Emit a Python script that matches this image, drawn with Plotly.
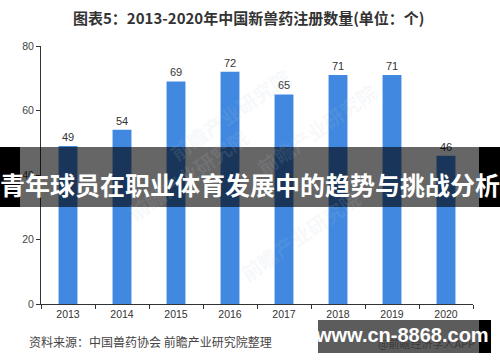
import plotly.graph_objects as go

years = ["2013", "2014", "2015", "2016", "2017", "2018", "2019", "2020"]
counts = [49, 54, 69, 72, 65, 71, 71, 46]
y_ticks = [0, 20, 40, 60, 80]

title_text = "图表5：2013-2020年中国新兽药注册数量(单位：个)"
banner_text = "青年球员在职业体育发展中的趋势与挑战分析"
source_text = "资料来源：中国兽药协会 前瞻产业研究院整理"
site_text = "www.cn-8868.com"
app_text = "@前瞻经济学人APP"
wm_text = "前瞻产业研究院"

W, H = 500, 362
L, R, T, B = 41, 27, 46, 58
PW, PH = W - L - R, H - T - B

def px(x):
    return (x - L) / PW

def py(y):
    return (H - B - y) / PH

FONT = "Noto Sans CJK SC, Liberation Sans, Arial, sans-serif"

fig = go.Figure(go.Bar(
    x=years, y=counts, width=0.35,
    marker=dict(color="#4088E0", line=dict(width=0)),
    text=counts, textposition="outside", cliponaxis=False,
    textfont=dict(size=11, color="#333333", family="Liberation Sans, Arial"),
))

shapes = [
    dict(type="rect", xref="paper", yref="paper", x0=px(0), x1=px(20), y0=py(207), y1=py(147),
         fillcolor="black", line=dict(width=0), layer="above"),
    dict(type="rect", xref="paper", yref="paper", x0=px(479), x1=px(500), y0=py(207), y1=py(147),
         fillcolor="black", line=dict(width=0), layer="above"),
    dict(type="rect", xref="paper", yref="paper", x0=px(20), x1=px(479), y0=py(207), y1=py(147),
         fillcolor="rgba(0,0,0,0.6)", line=dict(width=0), layer="above"),
    dict(type="rect", xref="paper", yref="paper", x0=px(318), x1=px(479), y0=py(353), y1=py(320),
         fillcolor="rgba(0,0,0,0.64)", line=dict(width=0), layer="above"),
    dict(type="rect", xref="paper", yref="paper", x0=px(479), x1=px(491), y0=py(353), y1=py(320),
         fillcolor="black", line=dict(width=0), layer="above"),
]

annotations = [
    dict(text="<b>" + title_text + "</b>", xref="paper", yref="paper", x=px(249), y=py(17),
         showarrow=False, font=dict(size=15, color="#333333", family=FONT), xanchor="center", yanchor="middle"),
    dict(text=source_text, xref="paper", yref="paper", x=px(27), y=py(341),
         showarrow=False, font=dict(size=12, color="#444444", family=FONT), xanchor="left", yanchor="middle"),
]
for (wx, wy) in [(120, 120), (385, 75), (300, 290), (230, 60)]:
    annotations.append(dict(text="<b>" + wm_text + "</b>", xref="paper", yref="paper", x=px(wx), y=py(wy),
                            showarrow=False, textangle=-35,
                            font=dict(size=20, color="rgba(190,200,215,0.12)", family=FONT)))
annotations += [
    dict(text=app_text, xref="paper", yref="paper", x=px(477), y=py(343),
         showarrow=False, font=dict(size=11, color="#3a3a3a", family=FONT), xanchor="right", yanchor="middle"),
    dict(text="<b>" + site_text + "</b>", xref="paper", yref="paper", x=px(402), y=py(335),
         showarrow=False, font=dict(size=20, color="white", family="Liberation Sans, Arial"),
         xanchor="center", yanchor="middle"),
    dict(text="<b>" + banner_text + "</b>", xref="paper", yref="paper", x=px(250), y=py(184),
         showarrow=False, font=dict(size=25, color="white", family=FONT), xanchor="center", yanchor="middle"),
]

fig.update_layout(
    width=W, height=H, margin=dict(l=L, r=R, t=T, b=B),
    paper_bgcolor="white", plot_bgcolor="white",
    showlegend=False, shapes=shapes, annotations=annotations,
    bargap=0.65,
    xaxis=dict(showline=True, linecolor="#333333", linewidth=1, ticks="outside", ticklen=4,
               tickcolor="#333333", tickson="boundaries", showgrid=False,
               tickfont=dict(size=10.5, color="#333333", family="Liberation Sans, Arial")),
    yaxis=dict(range=[0, 80], tickvals=y_ticks, showline=True, linecolor="#333333", linewidth=1,
               ticks="outside", ticklen=4, tickcolor="#333333", showgrid=False, zeroline=False,
               tickfont=dict(size=10.5, color="#444444", family="Liberation Sans, Arial")),
)

fig.write_html("out.html")
